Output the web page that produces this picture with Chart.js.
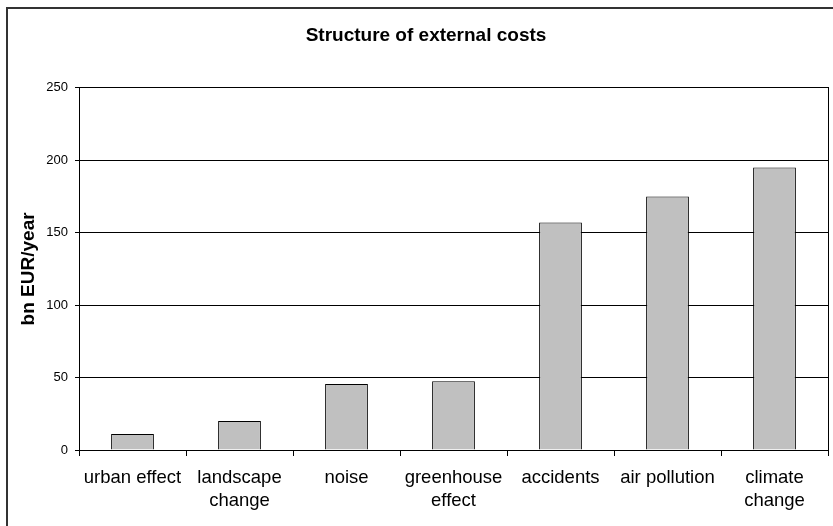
<!DOCTYPE html>
<html>
<head>
<meta charset="utf-8">
<script src="https://cdn.jsdelivr.net/npm/chart.js@4/dist/chart.umd.min.js"></script>
<style>
  html, body { margin: 0; padding: 0; background: #fff; }
  #wrap { width: 833px; height: 526px; position: relative; }
</style>
</head>
<body>
<div id="wrap"><canvas id="c" width="833" height="526"></canvas></div>
<script>
const categories = [
  ["urban effect"],
  ["landscape", "change"],
  ["noise"],
  ["greenhouse", "effect"],
  ["accidents"],
  ["air pollution"],
  ["climate", "change"]
];
const costs = [11, 20, 45.5, 47.5, 157, 175, 195];
const yTicks = [0, 50, 100, 150, 200, 250];
const chartTitle = "Structure of external costs";
const yTitle = "bn EUR/year";

const frame = {
  id: 'frame',
  beforeDraw(chart) {
    const ctx = chart.ctx;
    ctx.save();
    ctx.fillStyle = '#ffffff';
    ctx.fillRect(0, 0, chart.width, chart.height);
    ctx.strokeStyle = '#333333';
    ctx.lineWidth = 2;
    ctx.strokeRect(7, 8, chart.width + 20, chart.height + 20);
    ctx.restore();
  }
};

Chart.defaults.font.family = '"Liberation Sans", Arial, Helvetica, sans-serif';
Chart.defaults.color = '#000';

new Chart(document.getElementById('c'), {
  type: 'bar',
  data: {
    labels: categories,
    datasets: [{
      data: costs,
      backgroundColor: '#c0c0c0',
      borderColor: '#000000',
      borderWidth: 1,
      categoryPercentage: 1,
      barPercentage: 0.4
    }]
  },
  options: {
    responsive: false,
    animation: false,
    layout: { padding: { left: 24, right: 5, top: 0, bottom: 0 } },
    plugins: {
      legend: { display: false },
      tooltip: { enabled: false },
      title: {
        display: true,
        text: chartTitle,
        color: '#000',
        font: { size: 19, weight: 'bold' },
        padding: { top: 24, bottom: 41 }
      }
    },
    scales: {
      x: {
        grid: { display: true, drawOnChartArea: false, color: '#000', tickLength: 6, offset: true },
        border: { display: true, color: '#000', width: 1 },
        ticks: {
          color: '#000',
          font: { size: 18.5, lineHeight: 1.24 },
          padding: 10,
          maxRotation: 0,
          autoSkip: false
        },
        afterFit(s) { s.height = 76; }
      },
      y: {
        min: 0,
        max: 250,
        afterBuildTicks(s) { s.ticks = yTicks.map(v => ({ value: v })); },
        grid: { color: '#000', lineWidth: 1, tickLength: 4 },
        border: { display: true, color: '#000', width: 1 },
        ticks: { color: '#000', font: { size: 13 }, padding: 7 },
        title: {
          display: true,
          text: yTitle,
          color: '#000',
          font: { size: 19, weight: 'bold', lineHeight: 1.0 },
          padding: { top: -5, bottom: 0 }
        },
        afterFit(s) { s.width = 55; }
      },
      y2: {
        position: 'right',
        min: 0,
        max: 250,
        grid: { drawOnChartArea: false, drawTicks: false },
        border: { display: true, color: '#000', width: 1 },
        ticks: { display: false },
        afterFit(s) { s.width = 0; }
      }
    }
  },
  plugins: [frame]
});
</script>
</body>
</html>
